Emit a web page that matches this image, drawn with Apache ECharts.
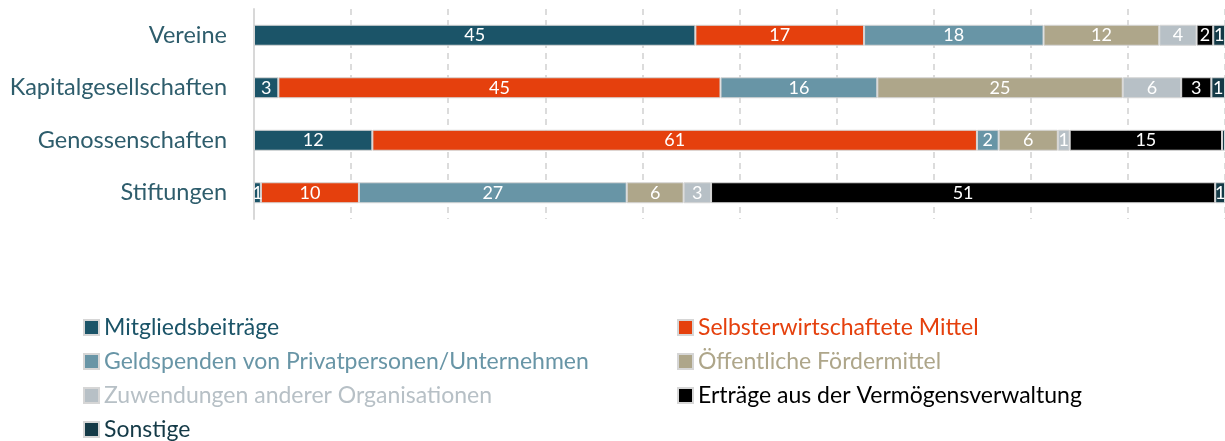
<!DOCTYPE html>
<html>
<head>
<meta charset="utf-8">
<script src="https://cdn.jsdelivr.net/npm/echarts@6/dist/echarts.min.js"></script>
<style>
  html, body { margin: 0; padding: 0; background: #fff; }
  #main { width: 1225px; height: 441px; }
</style>
</head>
<body>
<div id="main"></div>
<script>
// Kategorien (von oben nach unten)
var categories = ['Vereine', 'Kapitalgesellschaften', 'Genossenschaften', 'Stiftungen'];

// Anteile in Prozent je Finanzierungsquelle (Balken werden je Zeile auf 100 normiert)
var mitgliedsbeitraege = [45.0, 2.5, 12.0, 0.7];
var selbsterwirtschaftet = [17.2, 45.4, 61.3, 10.0];
var geldspenden = [18.3, 16.1, 2.2, 27.3];
var foerdermittel = [11.8, 25.2, 6.0, 5.8];
var zuwendungen = [3.8, 6.0, 1.2, 2.8];
var vermoegen = [1.7, 3.1, 15.45, 51.4];
var sonstige = [1.2, 1.4, 0.3, 1.0];

var names = [
    'Mitgliedsbeiträge', 'Selbsterwirtschaftete Mittel', 'Geldspenden von Privatpersonen/Unternehmen',
    'Öffentliche Fördermittel', 'Zuwendungen anderer Organisationen', 'Erträge aus der Vermögensverwaltung', 'Sonstige'
];
var values = [mitgliedsbeitraege, selbsterwirtschaftet, geldspenden, foerdermittel, zuwendungen, vermoegen, sonstige];
var colors = ['#1b5468', '#e5400d', '#6895a6', '#aea68a', '#b7c0c6', '#000000', '#143a47'];

var font = 'Lato';

// Zeilensummen fuer die Normierung
var rowSum = categories.map(function (c, j) {
    var s = 0;
    for (var i = 0; i < values.length; i++) s += values[i][j];
    return s;
});

var series = [];
for (var i = 0; i < names.length; i++) {
    series.push({
        name: names[i],
        type: 'bar',
        stack: 'total',
        barWidth: 21,
        data: values[i].map(function (v, j) { return v / rowSum[j] * 100; }),
        itemStyle: {color: colors[i], borderColor: '#d6d6d6', borderWidth: 1},
        label: {
            show: true,
            position: 'inside',
            color: '#fff',
            fontFamily: font,
            fontSize: 18,
            formatter: function (p) {
                var v = Math.round(values[p.seriesIndex][p.dataIndex]);
                return v > 0 ? v : '';
            }
        }
    });
}

function legendItems(idx) {
    return idx.map(function (k) {
        return {name: names[k], textStyle: {color: colors[k]}};
    });
}

var legendBase = {
    orient: 'vertical',
    icon: 'rect',
    itemWidth: 15,
    itemHeight: 15,
    itemGap: 11,
    top: 316,
    height: 130,
    padding: 0,
    selectedMode: false,
    textStyle: {fontFamily: font, fontSize: 23}
};

var chart = echarts.init(document.getElementById('main'));
chart.setOption({
    animation: false,
    color: colors,
    grid: {left: 254, right: -6, top: 9, height: 210},
    legend: [
        Object.assign({}, legendBase, {left: 83, data: legendItems([0, 2, 4, 6])}),
        Object.assign({}, legendBase, {left: 677, data: legendItems([1, 3, 5])})
    ],
    xAxis: {
        type: 'value',
        min: 0,
        max: 100,
        interval: 10,
        axisLabel: {show: false},
        axisLine: {show: false},
        axisTick: {show: false},
        splitLine: {lineStyle: {color: '#dcdcdc', width: 2, type: [6, 5]}}
    },
    yAxis: {
        type: 'category',
        inverse: true,
        data: categories,
        axisTick: {show: false},
        axisLine: {show: true, lineStyle: {color: '#d8d8d8', width: 2}},
        axisLabel: {margin: 27, color: '#2e5d6c', fontFamily: font, fontSize: 23.5}
    },
    series: series
});
</script>
</body>
</html>
